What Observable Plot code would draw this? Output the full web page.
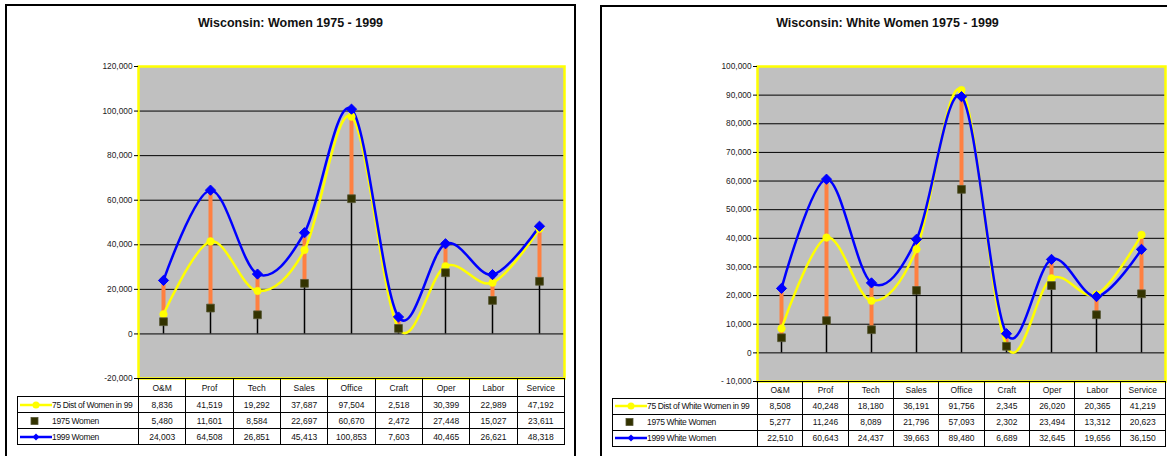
<!DOCTYPE html>
<html>
<head>
<meta charset="utf-8">
<script src="https://cdn.jsdelivr.net/npm/d3@7"></script>
<script src="https://cdn.jsdelivr.net/npm/@observablehq/plot@0.6"></script>
<style>
  html, body { margin: 0; padding: 0; background: #fff; }
  body { width: 1167px; height: 456px; position: relative; overflow: hidden; font-family: "Liberation Sans", Arial, sans-serif; }
  .panel { position: absolute; border: 2px solid #000; box-sizing: border-box; }
  .title { position: absolute; font-weight: bold; font-size: 12.5px; color: #111; text-align: center; }
  .abs { position: absolute; }
  table.dt { position: absolute; border-collapse: collapse; table-layout: fixed; font-size: 8.5px; color: #111; }
  table.dt td { border: 1px solid #000; text-align: center; padding: 0; white-space: nowrap; overflow: hidden; }
  table.dt td.leg { text-align: left; letter-spacing: -0.35px; }
  table.dt td.blank { border-top: hidden; border-left: hidden; }
</style>
</head>
<body>
<div class="panel" style="left:5px; top:4px; width:571px; height:470px;"></div>
<div class="panel" style="left:600px; top:5px; width:600px; height:470px;"></div>
<div class="title" style="left:5px; width:571px; top:16px;">Wisconsin: Women 1975 - 1999</div>
<div class="title" style="left:600px; width:575px; top:16px;">Wisconsin: White Women 1975 - 1999</div>
<div id="c1" class="abs" style="left:0px; top:0px;"></div>
<div id="c2" class="abs" style="left:590px; top:0px;"></div>
<script>
// ---- data ----
const categories = ["O&M", "Prof", "Tech", "Sales", "Office", "Craft", "Oper", "Labor", "Service"];

const women75Dist = [8836, 41519, 19292, 37687, 97504, 2518, 30399, 22989, 47192];
const women1975   = [5480, 11601, 8584, 22697, 60670, 2472, 27448, 15027, 23611];
const women1999   = [24003, 64508, 26851, 45413, 100853, 7603, 40465, 26621, 48318];

const white75Dist = [8508, 40248, 18180, 36191, 91756, 2345, 26020, 20365, 41219];
const white1975   = [5277, 11246, 8089, 21796, 57093, 2302, 23494, 13312, 20623];
const white1999   = [22510, 60643, 24437, 39663, 89480, 6689, 32645, 19656, 36150];

const leftTicks = [-20000, 0, 20000, 40000, 60000, 80000, 100000, 120000];
const leftTickLabels = ["-20,000", "0", "20,000", "40,000", "60,000", "80,000", "100,000", "120,000"];
const rightTicks = [-10000, 0, 10000, 20000, 30000, 40000, 50000, 60000, 70000, 80000, 90000, 100000];
const rightTickLabels = ["- 10,000", "0", "10,000", "20,000", "30,000", "40,000", "50,000", "60,000", "70,000", "80,000", "90,000", "100,000"];

const leftLegend = ["75 Dist of Women in 99", "1975 Women", "1999 Women"];
const rightLegend = ["75 Dist of White Women in 99", "1975 White Women", "1999 White Women"];

// ---- drawing ----
const YELLOW = "#ffff00", BLUE = "#0000ff", ORANGE = "#ff8040", SQUARE = "#333300";

function makeChart(opts) {
  const {dist, w75, w99, ticks, tickLabels, domain, width, height, mL, mR, mT, mB} = opts;
  const rows = categories.map((c, i) => ({
    cat: c, dist: dist[i], w75: w75[i], w99: w99[i],
    lo: Math.min(dist[i], w75[i], w99[i]), hi: Math.max(dist[i], w75[i], w99[i])
  }));
  const labelOf = new Map(ticks.map((t, i) => [t, tickLabels[i]]));
  return Plot.plot({
    width, height,
    marginLeft: mL, marginRight: mR, marginTop: mT, marginBottom: mB,
    style: {background: "transparent", fontFamily: "Liberation Sans, Arial, sans-serif"},
    x: {type: "point", domain: categories, padding: 0.5, axis: null},
    y: {domain, axis: null},
    marks: [
      Plot.frame({fill: "#c0c0c0"}),
      Plot.ruleY(ticks.filter(t => t > domain[0] && t < domain[1]), {stroke: "#000", strokeWidth: 1}),
      Plot.ruleX(rows, {x: "cat", y1: 0, y2: "lo", stroke: "#000", strokeWidth: 1.5}),
      Plot.ruleX(rows, {x: "cat", y1: "lo", y2: "hi", stroke: ORANGE, strokeWidth: 4}),
      Plot.line(rows, {x: "cat", y: "dist", stroke: YELLOW, strokeWidth: 2.5, curve: "cardinal"}),
      Plot.line(rows, {x: "cat", y: "w99", stroke: BLUE, strokeWidth: 2.5, curve: "cardinal"}),
      Plot.dot(rows, {x: "cat", y: "dist", r: 3.8, fill: YELLOW, stroke: YELLOW, strokeWidth: 0.5}),
      Plot.dot(rows, {x: "cat", y: "w75", symbol: "square", r: 4.4, fill: SQUARE, stroke: "#555533", strokeWidth: 0.8}),
      Plot.dot(rows, {x: "cat", y: "w99", symbol: "diamond2", r: 4.6, fill: BLUE, stroke: BLUE, strokeWidth: 1}),
      Plot.frame({stroke: YELLOW, strokeWidth: 2.5}),
      Plot.axisY(ticks, {
        tickSize: 4, tickPadding: 2, fontSize: 8.3, stroke: "#000", color: "#222",
        tickFormat: t => labelOf.get(t)
      })
    ]
  });
}

document.getElementById("c1").append(makeChart({
  dist: women75Dist, w75: women1975, w99: women1999,
  ticks: leftTicks, tickLabels: leftTickLabels, domain: [-20000, 120000],
  width: 580, height: 390, mL: 138, mR: 16, mT: 66, mB: 12
}));
document.getElementById("c2").append(makeChart({
  dist: white75Dist, w75: white1975, w99: white1999,
  ticks: rightTicks, tickLabels: rightTickLabels, domain: [-10000, 100000],
  width: 577, height: 390, mL: 167, mR: 2, mT: 66, mB: 9
}));

// ---- data tables ----
function legendIcon(kind, w) {
  const h = 14, y = 7;
  const ns = "http://www.w3.org/2000/svg";
  const svg = document.createElementNS(ns, "svg");
  svg.setAttribute("width", w); svg.setAttribute("height", h);
  svg.style.verticalAlign = "middle";
  let html = "";
  if (kind === 0) {
    html = `<line x1="2" x2="34" y1="${y}" y2="${y}" stroke="${YELLOW}" stroke-width="2.5"/><circle cx="18" cy="${y}" r="3.5" fill="${YELLOW}"/>`;
  } else if (kind === 1) {
    html = `<rect x="13" y="${y - 3.5}" width="7" height="7" fill="${SQUARE}" stroke="#555533" stroke-width="0.8"/>`;
  } else {
    html = `<line x1="2" x2="34" y1="${y}" y2="${y}" stroke="${BLUE}" stroke-width="2.5"/><path d="M18,${y - 3.5}L21.5,${y}L18,${y + 3.5}L14.5,${y}Z" fill="${BLUE}"/>`;
  }
  svg.innerHTML = html;
  return svg;
}

function makeTable(opts) {
  const {left, top, legW, colW, headH, rowH, legend, series, iconW} = opts;
  const t = document.createElement("table");
  t.className = "dt";
  t.style.left = left + "px"; t.style.top = top + "px";
  const cg = document.createElement("colgroup");
  const c0 = document.createElement("col"); c0.style.width = legW + "px"; cg.append(c0);
  categories.forEach(() => { const c = document.createElement("col"); c.style.width = colW + "px"; cg.append(c); });
  t.append(cg);
  const hr = document.createElement("tr"); hr.style.height = headH + "px";
  const b = document.createElement("td"); b.className = "blank"; hr.append(b);
  categories.forEach(c => { const td = document.createElement("td"); td.textContent = c; hr.append(td); });
  t.append(hr);
  const fmt = d3.format(",");
  series.forEach((vals, k) => {
    const tr = document.createElement("tr"); tr.style.height = rowH + "px";
    const td = document.createElement("td"); td.className = "leg";
    td.append(legendIcon(k, iconW));
    const sp = document.createElement("span"); sp.textContent = legend[k]; sp.style.verticalAlign = "middle";
    td.append(sp);
    tr.append(td);
    vals.forEach(v => { const d = document.createElement("td"); d.textContent = fmt(v); tr.append(d); });
    t.append(tr);
  });
  document.body.append(t);
}

makeTable({left: 17, top: 378, legW: 121, colW: 47.33, headH: 18, rowH: 16,
  legend: leftLegend, series: [women75Dist, women1975, women1999], iconW: 34});
makeTable({left: 612, top: 381, legW: 145, colW: 45.33, headH: 16.5, rowH: 16,
  legend: rightLegend, series: [white75Dist, white1975, white1999], iconW: 34});
</script>
</body>
</html>
